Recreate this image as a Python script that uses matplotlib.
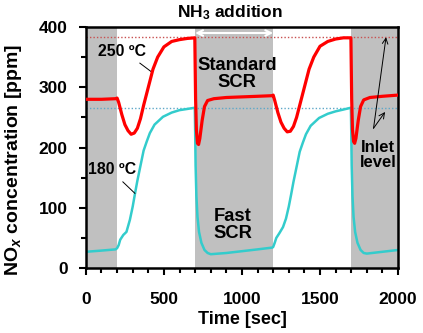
import matplotlib
matplotlib.use('Agg')
import matplotlib.pyplot as plt
from matplotlib.ticker import MultipleLocator

plt.rcParams['font.family'] = ['Liberation Sans', 'DejaVu Sans']
plt.rcParams['font.weight'] = 'bold'
plt.rcParams['mathtext.fontset'] = 'custom'
plt.rcParams['mathtext.rm'] = 'Liberation Sans:bold'
plt.rcParams['mathtext.it'] = 'Liberation Sans:italic:bold'

# --- data ---
nh3_bands = [(0, 200), (700, 1200), (1700, 2000)]

t_250 = [0, 100, 190, 200, 210, 230, 250, 270, 290, 310, 330, 350, 370, 400, 430, 460, 500, 550, 600, 650, 698,
         700, 703, 708, 715, 722, 730, 745, 760, 780, 820, 900, 1000, 1100, 1195,
         1200, 1210, 1230, 1250, 1270, 1290, 1310, 1330, 1350, 1370, 1400, 1430, 1460, 1500, 1550, 1600, 1650, 1698,
         1700, 1703, 1708, 1715, 1722, 1730, 1745, 1760, 1780, 1820, 1900, 2000]
v_250 = [280, 280, 281, 282, 275, 255, 238, 228, 222, 224, 232, 248, 270, 300, 330, 350, 367, 376, 379, 381, 382,
         340, 280, 230, 207, 205, 215, 245, 268, 278, 281, 283, 284, 285, 286,
         287, 278, 258, 242, 232, 226, 227, 235, 250, 270, 300, 330, 350, 368, 376, 380, 382, 382,
         340, 280, 230, 210, 207, 215, 245, 268, 279, 283, 285, 287]

t_180 = [0, 100, 190, 200, 210, 220, 240, 260, 282, 300, 315, 330, 350, 370, 390, 410, 440, 494, 550, 600, 650, 698,
         700, 703, 708, 715, 725, 740, 760, 780, 800, 900, 1000, 1100, 1195,
         1200, 1210, 1220, 1240, 1263, 1282, 1300, 1315, 1330, 1350, 1370, 1390, 1410, 1440, 1494, 1550, 1600, 1650, 1698,
         1700, 1703, 1708, 1715, 1725, 1740, 1760, 1780, 1800, 1900, 2000]
v_180 = [27, 29, 31, 33, 38, 47, 55, 60, 80, 102, 124, 145, 170, 195, 210, 224, 238, 251, 258, 262, 264, 266,
         230, 170, 120, 85, 60, 42, 30, 25, 23, 25, 28, 31, 34,
         35, 42, 50, 58, 68, 82, 102, 122, 143, 168, 193, 208, 222, 236, 249, 256, 260, 263, 266,
         230, 170, 120, 85, 60, 42, 30, 25, 24, 27, 30]

inlet_250 = 383
inlet_180 = 265

fig = plt.figure(figsize=(4.23, 3.33), dpi=100)
ax = fig.add_axes([0.203, 0.195, 0.738, 0.724])

for a, b in nh3_bands:
    ax.axvspan(a, b, color='#c0c0c0', lw=0, zorder=0)

ax.axhline(inlet_250, color='#c85050', ls=(0, (1, 1.5)), lw=1, zorder=1)
ax.axhline(inlet_180, color='#5fa8c8', ls=(0, (1, 1.5)), lw=1, zorder=1)

ax.plot(t_250, v_250, color='#ff0000', lw=2.3, zorder=3)
ax.plot(t_180, v_180, color='#33cccc', lw=1.8, zorder=2)

ax.set_xlim(0, 2000)
ax.set_ylim(0, 400)
ax.xaxis.set_major_locator(MultipleLocator(500))
ax.xaxis.set_minor_locator(MultipleLocator(100))
ax.yaxis.set_major_locator(MultipleLocator(100))
ax.yaxis.set_minor_locator(MultipleLocator(50))
ax.tick_params(which='major', direction='out', length=5, width=1.5, labelsize=12.5)
ax.tick_params(axis='x', which='major', pad=12)
ax.tick_params(axis='y', which='major', pad=8)
ax.tick_params(which='minor', direction='out', length=3.5, width=1.5)
for lab in ax.get_xticklabels() + ax.get_yticklabels():
    lab.set_fontweight('bold')
for s in ax.spines.values():
    s.set_linewidth(1.8)

ax.set_xlabel('Time [sec]', fontsize=13, fontweight='bold', labelpad=3)
ax.set_ylabel(r'NO$_{\mathit{x}}$ concentration [ppm]', fontsize=14, fontweight='bold')
ax.yaxis.set_label_coords(-0.199, 0.45)

# annotations
ax.text(923, 408, r'NH$_3$ addition', ha='center', va='bottom', fontsize=12.5, fontweight='bold', clip_on=False)
ax.annotate('', xy=(700, 390), xytext=(1200, 390),
            arrowprops=dict(arrowstyle='<->', color='white', lw=1.5, shrinkA=0, shrinkB=0))
ax.text(968, 322, 'Standard\nSCR', ha='center', va='center', fontsize=13.2, fontweight='bold', linespacing=1.0)
ax.text(943, 72, 'Fast\nSCR', ha='center', va='center', fontsize=13.2, fontweight='bold', linespacing=1.0)
ax.text(232, 360, '250 ºC', ha='center', va='center', fontsize=11.4, fontweight='bold')
ax.plot([346, 423], [340, 325], color='black', lw=0.7)
ax.text(165, 163, '180 ºC', ha='center', va='center', fontsize=11.4, fontweight='bold')
ax.plot([237, 314], [143, 124], color='black', lw=0.7)
ax.text(1870, 188, 'Inlet\nlevel', ha='center', va='center', fontsize=12, fontweight='bold', linespacing=1.0)
ax.annotate('', xy=(1923, 383), xytext=(1843, 232),
            arrowprops=dict(arrowstyle='->', color='black', lw=0.7, shrinkA=0, shrinkB=0))
ax.annotate('', xy=(1917, 259), xytext=(1843, 232),
            arrowprops=dict(arrowstyle='->', color='black', lw=0.7, shrinkA=0, shrinkB=0))

fig.savefig('out.png', dpi=100)
